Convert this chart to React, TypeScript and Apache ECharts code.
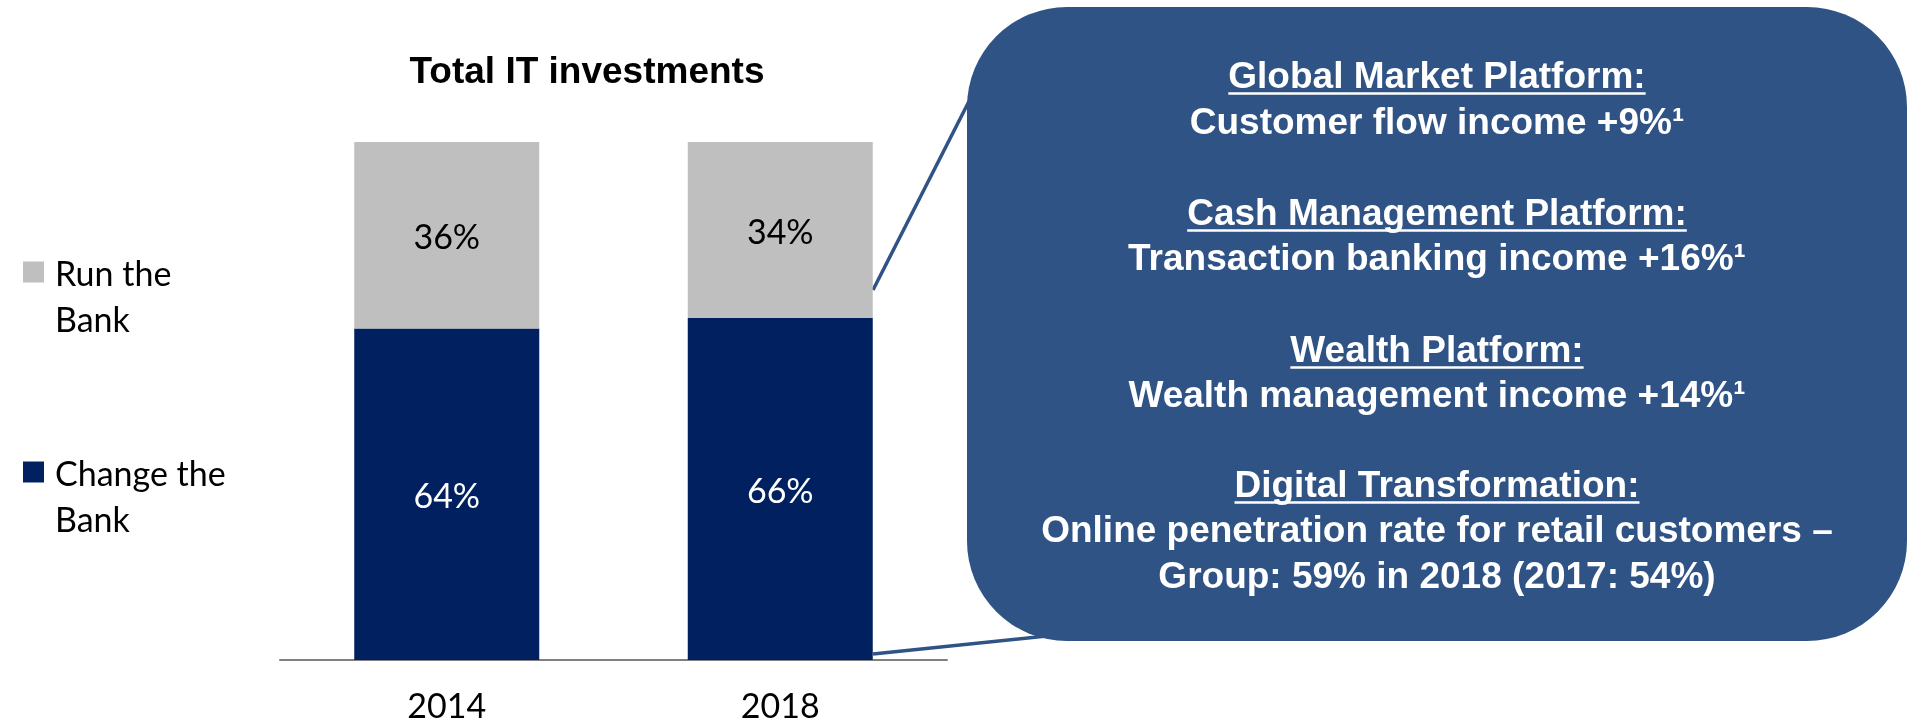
import React, { useEffect, useRef } from 'react';
import * as echarts from 'echarts';

const years = ['2014', '2018'];
const changeTheBank = [64, 66];
const runTheBank = [36, 34];
const seriesNames = ['Run the Bank', 'Change the Bank'];
const chartTitle = 'Total IT investments';
const calloutLines = [
  { text: 'Global Market Platform:', heading: true, y: 75 },
  { text: 'Customer flow income +9%¹', heading: false, y: 121 },
  { text: 'Cash Management Platform:', heading: true, y: 212 },
  { text: 'Transaction banking income +16%¹', heading: false, y: 257 },
  { text: 'Wealth Platform:', heading: true, y: 349 },
  { text: 'Wealth management income +14%¹', heading: false, y: 394 },
  { text: 'Digital Transformation:', heading: true, y: 484 },
  { text: 'Online penetration rate for retail customers –', heading: false, y: 529 },
  { text: 'Group: 59% in 2018 (2017: 54%)', heading: false, y: 575 },
];

const NAVY = '#002060';
const GREY = '#BFBFBF';
const BOX = '#2F5385';
const ARIAL = '"Liberation Sans", Arial, sans-serif';
const BODY = 'Lato, "Open Sans", sans-serif';

function measure(text: string, font: string): number {
  const ctx = document.createElement('canvas').getContext('2d');
  if (!ctx) return text.length * 20;
  ctx.font = font;
  return ctx.measureText(text).width;
}

export default function App() {
  const ref = useRef<HTMLDivElement>(null);
  useEffect(() => {
    document.body.style.margin = '0';
    if (!ref.current) return;
    const chart = echarts.init(ref.current, undefined, { renderer: 'svg' });
    const boxCx = 1437;
    const calloutFont = `bold 37px ${ARIAL}`;
    const calloutElems: any[] = [];
    calloutLines.forEach((l) => {
      calloutElems.push({
        type: 'text',
        z: 10,
        style: {
          text: l.text,
          x: boxCx,
          y: l.y,
          textAlign: 'center',
          textVerticalAlign: 'middle',
          fill: '#FFFFFF',
          font: calloutFont,
        },
      });
      if (l.heading) {
        const w = measure(l.text, calloutFont);
        calloutElems.push({
          type: 'line',
          z: 10,
          shape: { x1: boxCx - w / 2, y1: l.y + 18.5, x2: boxCx + w / 2, y2: l.y + 18.5 },
          style: { stroke: '#FFFFFF', lineWidth: 2.5 },
        });
      }
    });
    const legendCommon = {
      orient: 'vertical',
      left: 23,
      itemWidth: 21,
      itemHeight: 21,
      padding: 0,
      icon: 'rect',
      selectedMode: false,
      // leading blank line keeps the icon level with the first text line
      formatter: (name: string) => '\n' + name.replace(' Bank', '\nBank'),
      textStyle: {
        fontFamily: BODY,
        fontSize: 34,
        lineHeight: 46,
        color: '#000000',
        padding: [0, 0, 0, 6],
      },
    };
    chart.setOption({
      animation: false,
      grid: { left: 280, right: 976, top: 142, bottom: 65, containLabel: false },
      legend: [
        { ...legendCommon, data: [seriesNames[0]], top: 203 },
        { ...legendCommon, data: [seriesNames[1]], top: 403 },
      ],
      xAxis: {
        type: 'category',
        data: years,
        axisLine: { show: true, lineStyle: { color: '#808080', width: 2 } },
        axisTick: { show: false },
        axisLabel: {
          margin: 44,
          verticalAlign: 'middle',
          lineHeight: 26,
          fontFamily: BODY,
          fontSize: 34,
          color: '#000000',
        },
      },
      yAxis: {
        type: 'value',
        min: 0,
        max: 100,
        show: false,
        splitLine: { show: false },
      },
      series: [
        {
          name: seriesNames[1],
          type: 'bar',
          stack: 'total',
          data: changeTheBank,
          barWidth: 185,
          itemStyle: { color: NAVY },
          label: {
            show: true,
            position: 'inside',
            formatter: '{c}%',
            color: '#FFFFFF',
            fontFamily: BODY,
            fontSize: 34,
          },
        },
        {
          name: seriesNames[0],
          type: 'bar',
          stack: 'total',
          data: runTheBank,
          barWidth: 185,
          itemStyle: { color: GREY },
          label: {
            show: true,
            position: 'inside',
            formatter: '{c}%',
            color: '#000000',
            fontFamily: BODY,
            fontSize: 34,
          },
        },
      ],
      graphic: [
        {
          type: 'text',
          z: 10,
          style: {
            text: chartTitle,
            x: 587,
            y: 70,
            textAlign: 'center',
            textVerticalAlign: 'middle',
            fill: '#000000',
            font: `bold 37px ${ARIAL}`,
          },
        },
        {
          type: 'line',
          z: 1,
          shape: { x1: 873, y1: 290, x2: 990, y2: 60 },
          style: { stroke: BOX, lineWidth: 3.5 },
        },
        {
          type: 'line',
          z: 1,
          shape: { x1: 873, y1: 654, x2: 1080, y2: 632.6 },
          style: { stroke: BOX, lineWidth: 3.5 },
        },
        {
          type: 'rect',
          z: 5,
          shape: { x: 967, y: 7, width: 940, height: 634, r: 100 },
          style: { fill: BOX },
        },
        ...calloutElems,
      ],
    });
    return () => chart.dispose();
  }, []);
  return (
    <div
      ref={ref}
      style={{ position: 'fixed', left: 0, top: 0, width: 1923, height: 725 }}
    />
  );
}
